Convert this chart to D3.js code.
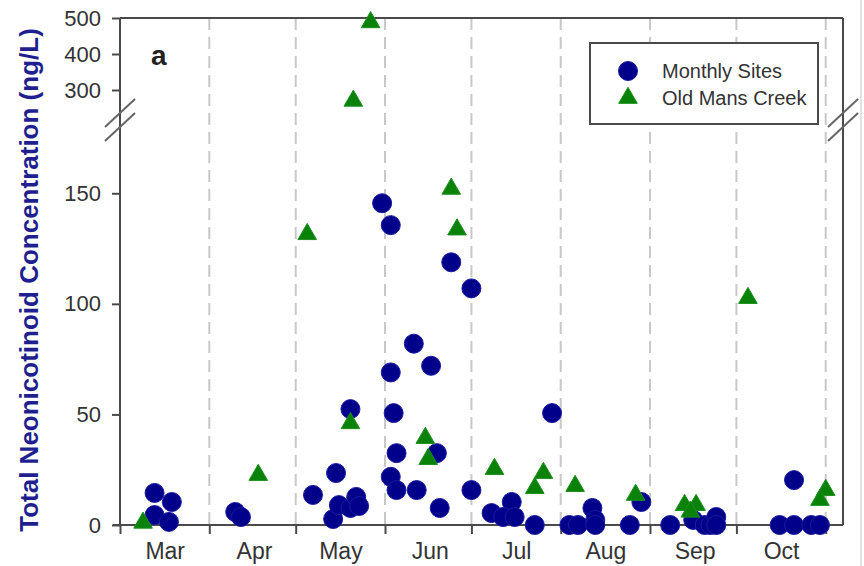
<!DOCTYPE html>
<html>
<head>
<meta charset="utf-8">
<script src="https://cdn.jsdelivr.net/npm/d3@7"></script>
<style>
  body { margin: 0; background: #fff; }
  text { font-family: "Liberation Sans", Arial, sans-serif; }
</style>
</head>
<body>
<svg id="chart" width="864" height="566"></svg>
<script>
// month labels on the x axis
var months = ["Mar", "Apr", "May", "Jun", "Jul", "Aug", "Sep", "Oct"];

// Monthly Sites (circles)
var monthlyDates = ["2016-03-13","2016-03-19","2016-03-13","2016-03-18","2016-04-10","2016-04-12",
  "2016-05-07","2016-05-15","2016-05-14","2016-05-16","2016-05-20","2016-05-22","2016-05-23","2016-05-20",
  "2016-05-31","2016-06-03","2016-06-24","2016-07-01","2016-06-11","2016-06-03","2016-06-17","2016-06-04",
  "2016-06-05","2016-06-03","2016-06-05","2016-06-12","2016-06-20","2016-06-19",
  "2016-07-01","2016-07-08","2016-07-15","2016-07-12","2016-07-16","2016-07-23","2016-07-29",
  "2016-08-04","2016-08-07","2016-08-12","2016-08-13","2016-08-13","2016-08-25","2016-08-29",
  "2016-09-08","2016-09-16","2016-09-20","2016-09-22","2016-09-24","2016-09-24",
  "2016-10-21","2016-10-16","2016-10-21","2016-10-27","2016-10-30"];
var monthlyValues = [14.5, 10.4, 4.5, 1.4, 5.9, 3.6,
  13.6, 23.5, 2.7, 9, 7.7, 12.7, 8.6, 52.4,
  145.5, 135.6, 118.8, 107, 82, 69, 72, 50.6,
  32.5, 21.8, 15.8, 15.8, 7.7, 32.5,
  15.8, 5.4, 10.4, 3.6, 3.6, 0, 50.6,
  0, 0, 7.7, 2.3, 0, 0, 10.4,
  0, 2.3, 0, 0, 3.6, 0,
  20.3, 0, 0, 0, 0];

// Old Mans Creek (triangles)
var creekDates = ["2016-03-09","2016-04-18","2016-05-05","2016-05-21","2016-05-27","2016-05-20",
  "2016-06-24","2016-06-26","2016-06-15","2016-06-16","2016-07-09","2016-07-23","2016-07-26",
  "2016-08-06","2016-08-27","2016-09-13","2016-09-17","2016-09-15","2016-10-05","2016-11-01","2016-10-30"];
var creekValues = [1, 22.6, 131.5, 270, 488, 46,
  152, 133.6, 39.3, 29.8, 25.3, 16.7, 23.5,
  17.6, 13.6, 9, 9, 6, 102.6, 15.8, 11.3];

var lowTicks = [0, 50, 100, 150];
var highTicks = [300, 400, 500];

var parse = d3.utcParse("%Y-%m-%d");
var svg = d3.select("#chart");
var axisColor = "#4a4a4a";

var x = d3.scaleUtc()
  .domain([parse("2016-03-01"), parse("2016-11-07")])
  .range([120, 843]);
var yLow = d3.scaleLinear().domain([0, 175]).range([525, 138]);
var yHigh = d3.scaleLinear().domain([250, 500]).range([108, 18]);
function y(v) { return v > 200 ? yHigh(v) : yLow(v); }

var monthStarts = d3.utcMonth.range(parse("2016-03-01"), parse("2016-11-02"));

// dashed month separators
svg.append("g").selectAll("line")
  .data(monthStarts.slice(1))
  .join("line")
  .attr("x1", d => x(d)).attr("x2", d => x(d))
  .attr("y1", yHigh.range()[1]).attr("y2", yLow.range()[0])
  .attr("stroke", "#c8c8c8")
  .attr("stroke-width", 2)
  .attr("stroke-dasharray", "12,7");

// y axes (two pieces)
function styleAxis(g) {
  g.select(".domain").remove();
  g.selectAll(".tick line").attr("stroke", axisColor).attr("stroke-width", 2);
  g.selectAll(".tick text").attr("fill", "#333").style("font-size", "22px")
    .style("font-family", "'Liberation Sans', Arial, sans-serif");
}
svg.append("g").attr("transform", "translate(120,0)")
  .call(d3.axisLeft(yLow).tickValues(lowTicks).tickSize(8).tickPadding(11))
  .call(styleAxis);
svg.append("g").attr("transform", "translate(120,0)")
  .call(d3.axisLeft(yHigh).tickValues(highTicks).tickSize(8).tickPadding(11))
  .call(styleAxis);

// x axis ticks
svg.append("g").attr("transform", "translate(0,525)")
  .call(d3.axisBottom(x).tickValues(monthStarts).tickSize(9).tickFormat(""))
  .call(styleAxis);

// month labels at mid month
svg.append("g").selectAll("text")
  .data(months)
  .join("text")
  .attr("x", (d, i) => x(d3.utcDay.offset(monthStarts[i], 15)) + 2)
  .attr("y", 559)
  .attr("text-anchor", "middle")
  .attr("fill", "#333")
  .style("font-size", "23px")
  .text(d => d);

// frame lines
var frame = svg.append("g").attr("stroke", axisColor).attr("stroke-width", 2).attr("fill", "none");
frame.append("line").attr("x1", 113).attr("x2", 843).attr("y1", 525).attr("y2", 525);
frame.append("line").attr("x1", 120).attr("x2", 120).attr("y1", 18).attr("y2", 525);
frame.append("line").attr("x1", 120).attr("x2", 843).attr("y1", 18).attr("y2", 18);
frame.append("line").attr("x1", 843).attr("x2", 843).attr("y1", 18).attr("y2", 525);

// axis break marks
var breakY = (yHigh.range()[0] + yLow.range()[1]) / 2 - 3;
[x.range()[0], x.range()[1]].forEach(function (bx) {
  [-7, 7].forEach(function (off) {
    svg.append("line")
      .attr("x1", bx - 15).attr("y1", breakY + off + 14)
      .attr("x2", bx + 15).attr("y2", breakY + off - 14)
      .attr("stroke", "#666").attr("stroke-width", 2);
  });
});
// faint right edge line
svg.append("line").attr("x1", 861).attr("x2", 861).attr("y1", 0).attr("y2", 566)
  .attr("stroke", "#e2e2e2").attr("stroke-width", 2);

// circles
svg.append("g").selectAll("circle")
  .data(monthlyValues)
  .join("circle")
  .attr("cx", (d, i) => x(parse(monthlyDates[i])))
  .attr("cy", d => y(d))
  .attr("r", 9.5)
  .attr("fill", "#00008b")
  .attr("stroke", "#1a1aa0")
  .attr("stroke-width", 1);

// triangles
var tri = d3.symbol(d3.symbolTriangle, 150);
svg.append("g").selectAll("path")
  .data(creekValues)
  .join("path")
  .attr("d", tri)
  .attr("transform", (d, i) => "translate(" + x(parse(creekDates[i])) + "," + y(d) + ")")
  .attr("fill", "#0a820a")
  .attr("stroke", "#1b8f1b")
  .attr("stroke-width", 1);

// panel letter
svg.append("text").attr("x", 151).attr("y", 65)
  .style("font-size", "28px").style("font-weight", "bold").attr("fill", "#222").text("a");

// y label
svg.append("text")
  .attr("transform", "translate(38,280) rotate(-90)")
  .attr("text-anchor", "middle")
  .attr("fill", "#1f1f8f")
  .style("font-size", "26px")
  .style("font-weight", "bold")
  .text("Total Neonicotinoid Concentration (ng/L)");

// legend
var legend = svg.append("g");
legend.append("rect").attr("x", 590).attr("y", 43).attr("width", 228).attr("height", 81)
  .attr("fill", "#fff").attr("stroke", axisColor).attr("stroke-width", 2);
legend.append("circle").attr("cx", 628).attr("cy", 71).attr("r", 9.5)
  .attr("fill", "#00008b").attr("stroke", "#1a1aa0");
legend.append("path").attr("d", tri).attr("transform", "translate(628,98)")
  .attr("fill", "#0a820a").attr("stroke", "#1b8f1b");
legend.append("text").attr("x", 662).attr("y", 78).attr("fill", "#333")
  .style("font-size", "20px").text("Monthly Sites");
legend.append("text").attr("x", 662).attr("y", 105).attr("fill", "#333")
  .style("font-size", "20px").text("Old Mans Creek");
</script>
</body>
</html>
